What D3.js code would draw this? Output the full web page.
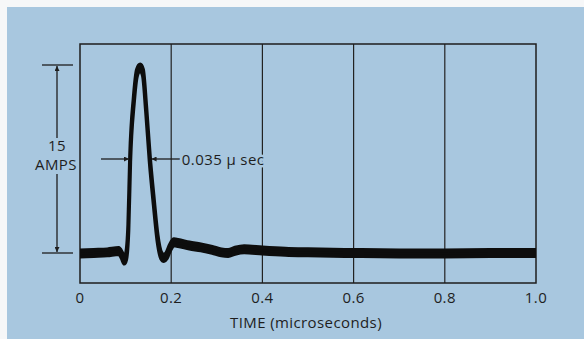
<!DOCTYPE html>
<html lang="en">
<meta charset="utf-8">
<style type="text/css">
  body { margin: 0; background: #f6f7f8; }
  svg text { font-family: 'Open Sans', sans-serif; fill: #1e1e1e; letter-spacing: 0.4px; font-size: 15px; }
</style>
<script src="https://d3js.org/d3.v7.min.js"></script>
<body>
<div id="chart"></div>
<script type="text/javascript">
  // chart size
  var w = 584;
  var h = 339;

  // trace, time in microseconds, current in amps
  var times = [0, 0.03, 0.06, 0.085, 0.092, 0.097, 0.101, 0.106, 0.110, 0.118, 0.125, 0.132,
               0.138, 0.145, 0.153, 0.162, 0.170, 0.178, 0.184, 0.190, 0.197, 0.206, 0.215,
               0.24, 0.265, 0.29, 0.31, 0.325, 0.34, 0.36, 0.4, 0.45, 0.5, 0.6, 0.7, 0.8, 0.9, 1.0];
  var amps  = [-0.05, 0.0, 0.05, 0.15, -0.2, -0.6, -0.3, 2.0, 7.5, 12.2, 14.4, 14.8,
               14.4, 11.5, 7.5, 4.0, 1.2, -0.2, -0.4, -0.2, 0.4, 0.85, 0.8,
               0.6, 0.45, 0.25, 0.05, 0.0, 0.18, 0.3, 0.2, 0.1, 0.05, 0.0, -0.03, -0.03, 0.0, 0.0];

  var xTicks = [0, 0.2, 0.4, 0.6, 0.8, 1.0];
  var xTickLabels = ["0", "0.2", "0.4", "0.6", "0.8", "1.0"];
  var gridTimes = [0.2, 0.4, 0.6, 0.8];

  // annotations
  var ampSpan = [0, 15];               // dimension arrow, amps
  var halfAmp = 7.5;                   // level of the width arrows
  var widthEdges = [0.1075, 0.157];    // arrow tips on the pulse
  var widthTails = [0.046, 0.219];     // arrow tails
  var widthLabel = "0.035 \u03bc sec";
  var xTitle = "TIME  (microseconds)";

  var data = times.map((t, i) => ({t: t, a: amps[i]}));

  var svg = d3.select("#chart").append("svg")
    .attr("width", w)
    .attr("height", h);

  svg.append("rect")
    .attr("x", 7).attr("y", 7)
    .attr("width", w - 7).attr("height", h - 7)
    .attr("fill", "#a8c7df");

  var x = d3.scaleLinear().domain([0, 1]).range([80, 536]);
  var y = d3.scaleLinear().domain([0, 15]).range([253, 65]);
  var plotTop = 44, plotBottom = 283;

  // grid
  svg.selectAll(".grid")
    .data(gridTimes)
    .enter()
    .append("line")
      .attr("class", "grid")
      .attr("x1", d => x(d)).attr("x2", d => x(d))
      .attr("y1", plotTop).attr("y2", plotBottom)
      .attr("stroke", "#222")
      .attr("stroke-width", 1.2);

  svg.append("rect")
    .attr("x", x(0)).attr("y", plotTop)
    .attr("width", x(1) - x(0)).attr("height", plotBottom - plotTop)
    .attr("fill", "none")
    .attr("stroke", "#1e1e1e")
    .attr("stroke-width", 1.5);

  var defs = svg.append("defs");
  defs.append("clipPath")
    .attr("id", "plotclip")
    .append("rect")
      .attr("x", x(0)).attr("y", plotTop)
      .attr("width", x(1) - x(0)).attr("height", plotBottom - plotTop);

  // trace drawn as a thick band
  var band = d3.area()
    .x(d => x(d.t))
    .y0(d => y(d.a) + 3)
    .y1(d => y(d.a) - 3)
    .curve(d3.curveMonotoneX);

  svg.append("path")
    .datum(data)
    .attr("d", band)
    .attr("clip-path", "url(#plotclip)")
    .attr("fill", "#0d0d0d")
    .attr("stroke", "#0d0d0d")
    .attr("stroke-width", 4)
    .attr("stroke-linejoin", "round");

  // x axis labels
  svg.selectAll(".xlab")
    .data(xTicks)
    .enter()
    .append("text")
      .attr("class", "xlab")
      .attr("x", d => x(d))
      .attr("y", 303)
      .attr("text-anchor", "middle")
      .text((d, i) => xTickLabels[i]);

  svg.append("text")
    .attr("x", x(0.5) - 2)
    .attr("y", 328)
    .attr("text-anchor", "middle")
    .text(xTitle);

  // arrow heads
  defs.append("marker")
    .attr("id", "head")
    .attr("viewBox", "0 0 10 10")
    .attr("refX", 10).attr("refY", 5)
    .attr("markerWidth", 9).attr("markerHeight", 5)
    .attr("markerUnits", "userSpaceOnUse")
    .attr("orient", "auto")
    .append("path")
      .attr("d", "M0,0 L10,5 L0,10 Z")
      .attr("fill", "#1e1e1e");

  // 15 amps dimension
  var dimX = 57;
  svg.selectAll(".dimtick")
    .data(ampSpan)
    .enter()
    .append("line")
      .attr("class", "dimtick")
      .attr("x1", 42).attr("x2", 73)
      .attr("y1", d => y(d)).attr("y2", d => y(d))
      .attr("stroke", "#1e1e1e")
      .attr("stroke-width", 1.3);

  svg.append("line")
    .attr("x1", dimX).attr("x2", dimX)
    .attr("y1", 138).attr("y2", y(ampSpan[1]) + 1)
    .attr("stroke", "#1e1e1e").attr("stroke-width", 1.3)
    .attr("marker-end", "url(#head)");
  svg.append("line")
    .attr("x1", dimX).attr("x2", dimX)
    .attr("y1", 174).attr("y2", y(ampSpan[0]) - 1)
    .attr("stroke", "#1e1e1e").attr("stroke-width", 1.3)
    .attr("marker-end", "url(#head)");

  svg.append("text")
    .attr("x", dimX).attr("y", 151)
    .attr("text-anchor", "middle")
    .text(ampSpan[1]);
  svg.append("text")
    .attr("x", dimX - 1).attr("y", 170)
    .attr("text-anchor", "middle")
    .text("AMPS");

  // pulse width arrows
  svg.append("line")
    .attr("x1", x(widthTails[0])).attr("x2", x(widthEdges[0]))
    .attr("y1", y(halfAmp)).attr("y2", y(halfAmp))
    .attr("stroke", "#1e1e1e").attr("stroke-width", 1.3)
    .attr("marker-end", "url(#head)");
  svg.append("line")
    .attr("x1", x(widthTails[1])).attr("x2", x(widthEdges[1]))
    .attr("y1", y(halfAmp)).attr("y2", y(halfAmp))
    .attr("stroke", "#1e1e1e").attr("stroke-width", 1.3)
    .attr("marker-end", "url(#head)");

  svg.append("text")
    .attr("x", x(widthTails[1]) + 2)
    .attr("y", y(halfAmp) + 6)
    .style("paint-order", "stroke")
    .style("stroke", "#a8c7df")
    .style("stroke-width", 5)
    .text(widthLabel);
</script>
</body>
</html>
